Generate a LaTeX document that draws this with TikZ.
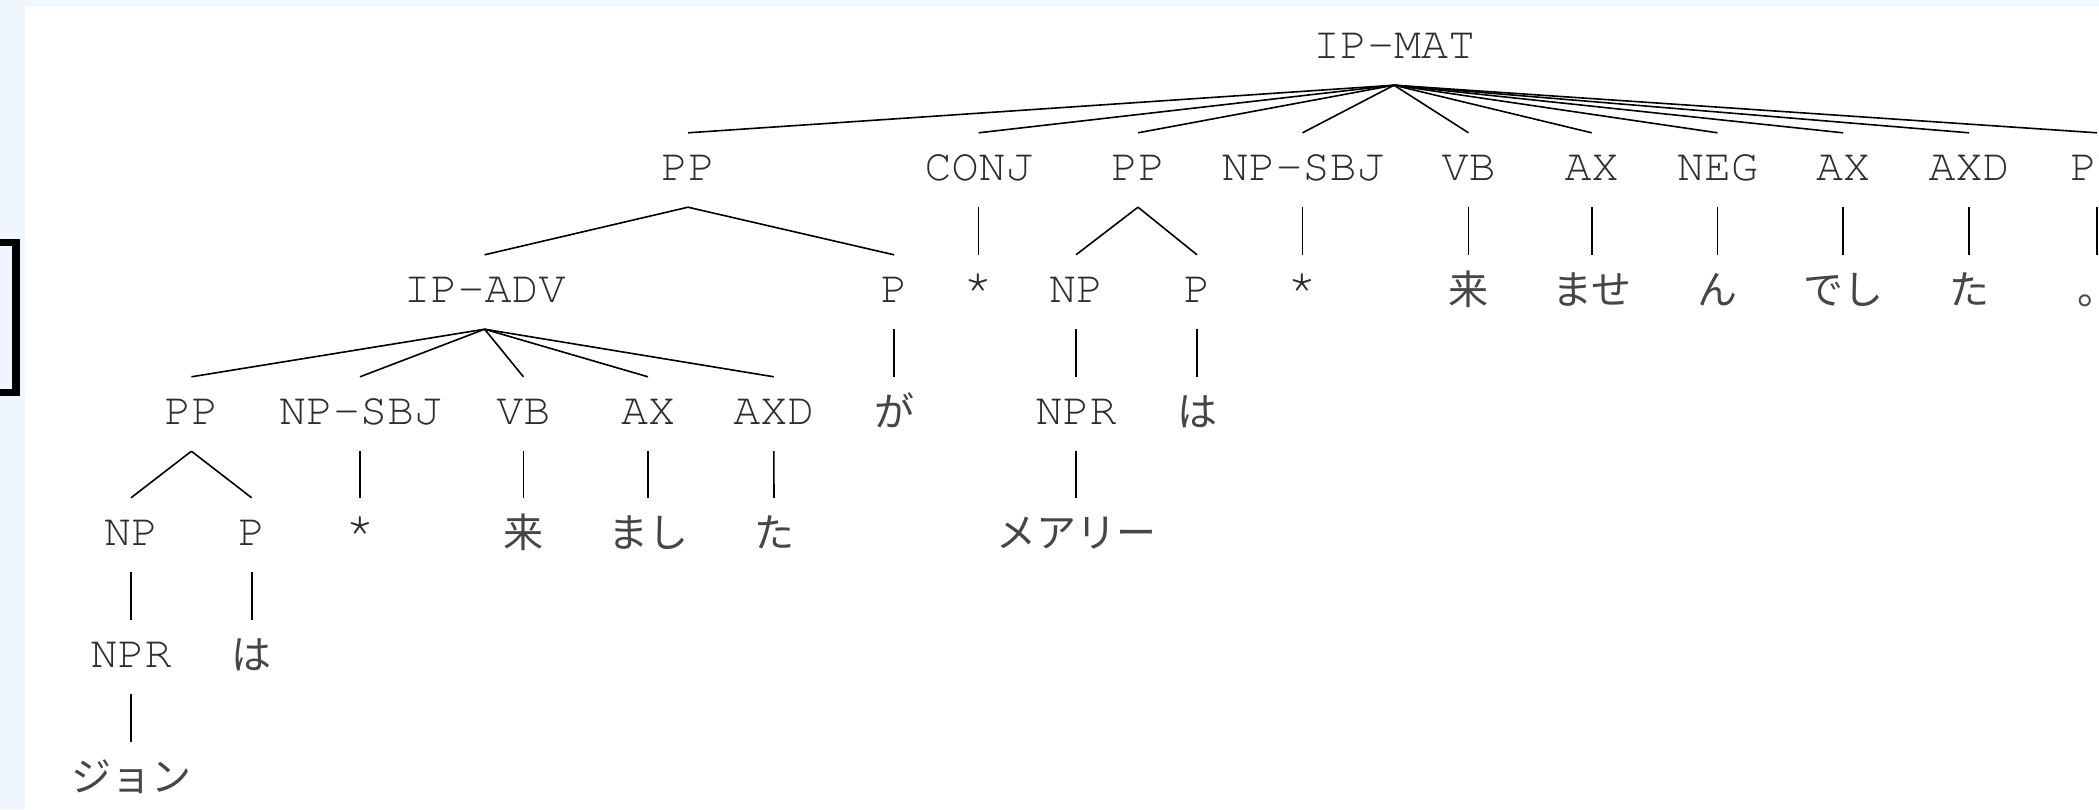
\documentclass[tikz,border=0pt]{standalone}
\usepackage[T1,TU]{fontenc}
\usepackage{fontspec}
\newfontfamily\jpfont{Noto Sans CJK JP}
\newcommand\latf{\fontencoding{T1}\fontfamily{pcr}\fontseries{m}\fontshape{n}\fontsize{45}{45}\selectfont}
\newcommand\jpf{\jpfont\fontsize{40}{40}\selectfont}
\newcommand\starmark{\raisebox{7pt}{\scalebox{1.1}{*}}}
\definecolor{bgblue}{RGB}{240,246,254}
\definecolor{ink}{RGB}{45,45,45}
\definecolor{jpink}{RGB}{70,70,70}
\tikzset{
  lat/.style={font=\latf, text=ink, inner sep=0pt, anchor=base, text height=47pt, text depth=27pt},
  jp/.style={font=\jpf, text=jpink, inner sep=0pt, anchor=base, text height=49pt, text depth=25pt},
  branch/.style={draw=black, line width=1.6pt}
}
\begin{document}
\begin{tikzpicture}[x=1pt,y=-1pt]
\useasboundingbox (0,0) rectangle (2099,809);
\clip (0,0) rectangle (2099,809);
\fill[bgblue] (0,0) rectangle (2099,809);
\fill[white] (25,6) rectangle (2099,809);
\draw[line width=7.5pt, miter limit=10] (0,242.7) -- (16.2,242.7) -- (16.2,392.3) -- (0,392.3);

% row 0
\node[lat] (ipmat) at (1394,58) {IP-MAT};
% row 1
\node[lat] (pp1)  at (688,180)    {PP};
\node[lat] (conj) at (978.6,180)  {CONJ};
\node[lat] (pp2)  at (1138,180)   {PP};
\node[lat] (sbj1) at (1302.5,180) {NP-SBJ};
\node[lat] (vb1)  at (1468.5,180) {VB};
\node[lat] (ax1)  at (1591.7,180) {AX};
\node[lat] (neg)  at (1717.5,180) {NEG};
\node[lat] (ax2)  at (1843,180)   {AX};
\node[lat] (axd1) at (1969,180)   {AXD};
\node[lat] (pu)   at (2097,180)   {PU};
% row 2
\node[lat] (ipadv) at (484.6,302) {IP-ADV};
\node[lat] (p1)    at (894,302)   {P};
\node[lat] (star1) at (978.6,302) {\starmark};
\node[lat] (np2)   at (1076,302)  {NP};
\node[lat] (p2)    at (1197,302)  {P};
\node[lat] (star2) at (1302.5,302) {\starmark};
\node[jp]  (ku1)   at (1468.5,304) {来};
\node[jp]  (mase)  at (1591.7,304) {ませ};
\node[jp]  (nn)    at (1717.5,304) {ん};
\node[jp]  (deshi) at (1843,304)   {でし};
\node[jp]  (ta1)   at (1969,304)   {た};
\node[jp]  (maru)  at (2097,304)   {。};
% row 3
\node[lat] (pp3)  at (191.4,424) {PP};
\node[lat] (sbj2) at (360,424)   {NP-SBJ};
\node[lat] (vb2)  at (523.4,424) {VB};
\node[lat] (ax3)  at (648,424)   {AX};
\node[lat] (axd2) at (773.8,424) {AXD};
\node[jp]  (ga)   at (894,426)   {が};
\node[lat] (npr2) at (1076,424)  {NPR};
\node[jp]  (wa2)  at (1197,426)  {は};
% row 4
\node[lat] (np3)   at (131,545)   {NP};
\node[lat] (p3)    at (251.7,545) {P};
\node[lat] (star3) at (360,545)   {\starmark};
\node[jp]  (ku2)   at (523.4,547) {来};
\node[jp]  (mashi) at (648,547)   {まし};
\node[jp]  (ta2)   at (774,547)   {た};
\node[jp]  (mary)  at (1076,547)  {メアリー};
% row 5
\node[lat] (npr3) at (131,667)   {NPR};
\node[jp]  (wa3)  at (251.7,669) {は};
% row 6
\node[jp]  (john) at (131,791)   {ジョン};

\foreach \a/\b in {ipmat/pp1,ipmat/conj,ipmat/pp2,ipmat/sbj1,ipmat/vb1,ipmat/ax1,ipmat/neg,ipmat/ax2,ipmat/axd1,ipmat/pu,
  pp1/ipadv,pp1/p1,conj/star1,pp2/np2,pp2/p2,sbj1/star2,vb1/ku1,ax1/mase,neg/nn,ax2/deshi,axd1/ta1,pu/maru,
  ipadv/pp3,ipadv/sbj2,ipadv/vb2,ipadv/ax3,ipadv/axd2,p1/ga,np2/npr2,p2/wa2,
  pp3/np3,pp3/p3,sbj2/star3,vb2/ku2,ax3/mashi,axd2/ta2,npr2/mary,
  np3/npr3,p3/wa3,npr3/john}
  \draw[branch] (\a.south) -- (\b.north);
\end{tikzpicture}
\end{document}
